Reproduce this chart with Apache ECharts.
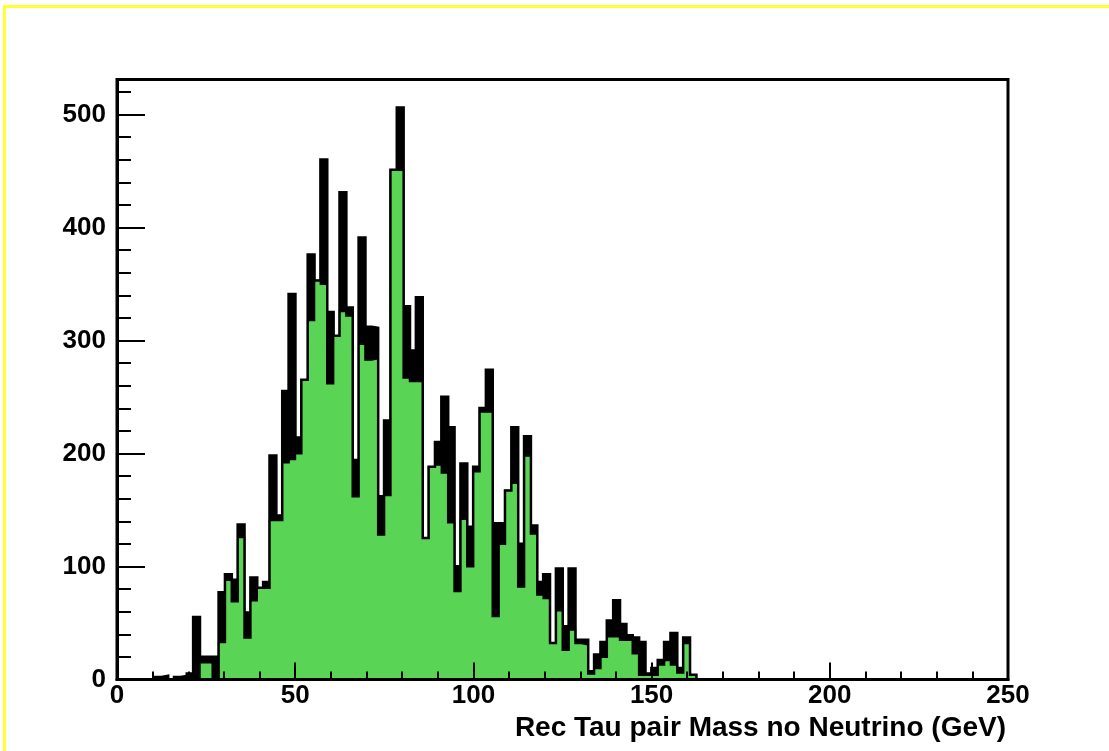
<!DOCTYPE html>
<html><head><meta charset="utf-8">
<script src="https://cdn.jsdelivr.net/npm/echarts@6/dist/echarts.min.js"></script>
<style>html,body{margin:0;padding:0;background:#fff}#c{width:1109px;height:751px}</style>
</head><body><div id="c"></div>
<script>
// Histogram binning (axis structure)
const X_MIN = 0, X_MAX = 250, N_BINS = 140;
const FIRST_BIN = 5; // index of the first bin listed below
// Black histogram counts, bins 5..90
const blackCounts = [0,2,3,0,2,3,5,55,20,20,20,77,93,88,137,59,90,81,86,198,145,255,341,214,265,376,353,460,325,304,431,329,194,391,312,311,162,229,451,506,330,291,338,125,188,210,250,223,100,191,135,188,240,274,138,138,167,223,120,215,136,86,93,32,98,47,98,35,35,7,22,33,52,70,49,39,37,33,5,10,17,33,41,10,37,4];
// Green histogram counts, bins 5..90
const greenCounts = [0,0,0,0,0,0,0,0,15,15,0,33,88,69,126,37,70,81,81,141,141,192,195,200,265,318,353,350,262,304,326,322,162,297,283,284,128,163,451,451,267,264,264,125,188,190,183,139,78,142,100,184,237,237,56,120,167,174,82,198,129,75,72,32,61,26,44,32,31,5,10,20,38,38,35,35,23,4,4,4,13,17,13,6,32,4];
const xTickLabels = ['0','50','100','150','200','250'];
const yTickLabels = ['0','100','200','300','400','500'];
const xTitle = 'Rec Tau pair Mass no Neutrino (GeV)';
const Y_MAX = 531;

function stepData(counts){
  const w = (X_MAX - X_MIN) / N_BINS;
  const pts = [];
  for (let k = 0; k < N_BINS; k++) {
    const i = k - FIRST_BIN;
    const v = (i >= 0 && i < counts.length) ? counts[i] : 0;
    pts.push([X_MIN + k * w, v]);
  }
  pts.push([X_MAX, pts[pts.length - 1][1]]);
  return pts;
}

const FONT = '"Liberation Sans", Arial, Helvetica, sans-serif';
const chart = echarts.init(document.getElementById('c'), null, {renderer:'canvas'});
chart.setOption({
  animation: false,
  backgroundColor: '#ffffff',
  grid: {left: 117, right: 101, top: 79.5, bottom: 71.5, show: true, borderColor: '#000', borderWidth: 3, backgroundColor: 'transparent'},
  xAxis: [{
    type: 'value', min: X_MIN, max: X_MAX, interval: 50, z: 10,
    axisLine: {show: true, lineStyle: {color: '#000', width: 3}},
    axisTick: {show: true, inside: true, length: 17, lineStyle: {color: '#000', width: 2}},
    minorTick: {show: true, splitNumber: 5, length: 8, lineStyle: {color: '#000', width: 2}},
    splitLine: {show: false},
    axisLabel: {margin: 3, color: '#000', fontFamily: FONT, fontWeight: 'bold', fontSize: 26,
      formatter: v => xTickLabels[Math.round(v / 50)] || ''}
  }],
  yAxis: [{
    type: 'value', min: 0, max: Y_MAX, interval: 100, position: 'left', z: 10,
    axisLine: {show: true, lineStyle: {color: '#000', width: 3}},
    axisTick: {show: true, inside: true, length: 28, lineStyle: {color: '#000', width: 2}},
    splitLine: {show: false},
    axisLabel: {margin: 11, color: '#000', fontFamily: FONT, fontWeight: 'bold', fontSize: 26, showMaxLabel: false,
      formatter: v => (v % 100 === 0 ? (yTickLabels[v / 100] || '') : '')}
  },{
    type: 'value', min: 0, max: Y_MAX, interval: 20, position: 'left', offset: 0, z: 10,
    axisLine: {show: false},
    axisTick: {show: true, inside: true, length: 14, lineStyle: {color: '#000', width: 2}},
    splitLine: {show: false},
    axisLabel: {show: false}
  }],
  graphic: [
    {type: 'rect', z: 100, silent: true, shape: {x: 4.5, y: 6.5, width: 1300, height: 900},
     style: {fill: null, stroke: '#ffff33', lineWidth: 3}},
    {type: 'text', z: 100, silent: true, style: {x: 1006, y: 728, text: xTitle, textAlign: 'right', textVerticalAlign: 'middle',
      font: 'bold 28px ' + FONT, fill: '#000'}}
  ],
  series: [{
    type: 'line', name: 'black', step: 'end', symbol: 'none', silent: true, z: 2,
    data: stepData(blackCounts),
    lineStyle: {color: '#000', width: 3, join: 'miter'},
    areaStyle: {color: '#000', opacity: 1}
  },{
    type: 'line', name: 'green', step: 'end', symbol: 'none', silent: true, z: 3,
    data: stepData(greenCounts),
    lineStyle: {color: '#000', width: 2, join: 'miter'},
    areaStyle: {color: '#59d454', opacity: 1}
  }]
});
</script></body></html>
